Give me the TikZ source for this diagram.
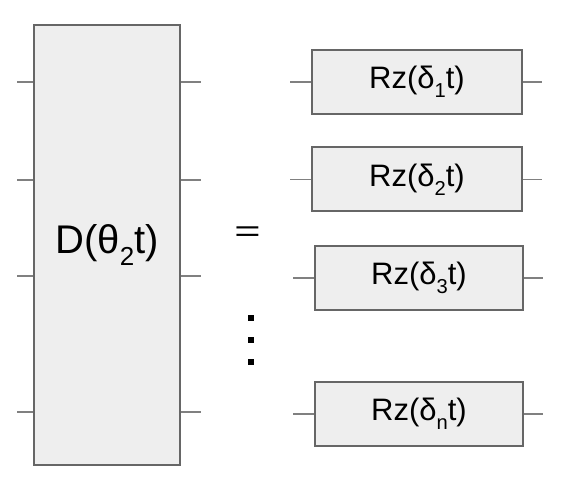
\documentclass[tikz,border=0pt]{standalone}
\usepackage{fontspec}
\setmainfont{Liberation Sans}
\usepackage{graphicx}
\newcommand\lowr[1]{\raisebox{-0.3em}{\scalebox{0.65}{#1}}}
\definecolor{boxfill}{HTML}{EEEEEE}
\definecolor{boxline}{HTML}{666666}
\definecolor{wire}{HTML}{808080}
\tikzset{
  gate/.style={draw=boxline, fill=boxfill, line width=2pt, inner sep=0pt},
  smallgate/.style={gate, font=\fontsize{31}{36}\selectfont},
  wireline/.style={draw=wire, line width=1.6pt},
  dotsq/.style={fill=black}
}
\begin{document}
\begin{tikzpicture}[x=1pt,y=-1pt]
\useasboundingbox (0,0) rectangle (571,489);
% big gate
\node[gate, minimum width=146pt, minimum height=440pt, font=\fontsize{40}{46}\selectfont] (D) at (107,245) {D(θ\lowr{2}t)};
\foreach \yy [count=\i] in {82,180,276,412}{
  \coordinate (dl\i) at (17,\yy);
  \coordinate (dr\i) at (201,\yy);
  \draw[wireline] (dl\i) -- (D.west |- dl\i);
  \draw[wireline] (D.east |- dr\i) -- (dr\i);
}
% equals sign
\node[font=\fontsize{30}{34}\selectfont, inner sep=0pt] (eq) at (247.5,234) {\scalebox{1.5}[1]{=}};
% small gates
\node[smallgate, minimum width=210pt, minimum height=64pt] (R1) at (417,82) {Rz(δ\lowr{1}t)};
\node[smallgate, minimum width=210pt, minimum height=64pt] (R2) at (417,179.5) {Rz(δ\lowr{2}t)};
\node[smallgate, minimum width=208pt, minimum height=64pt] (R3) at (419,278) {Rz(δ\lowr{3}t)};
\node[smallgate, minimum width=208pt, minimum height=64pt] (R4) at (419,414) {Rz(δ\lowr{n}t)};
\foreach \n in {1,2,3,4}{
  \coordinate (rl\n) at ([xshift=-21pt]R\n.west);
  \coordinate (rr\n) at ([xshift=19pt]R\n.east);
  \draw[wireline] (rl\n) -- (R\n.west);
  \draw[wireline] (R\n.east) -- (rr\n);
}
% vertical dots
\foreach \yy in {318,340,362}{
  \fill[dotsq] (248,\yy-3) rectangle (254,\yy+3);
}
\end{tikzpicture}
\end{document}
